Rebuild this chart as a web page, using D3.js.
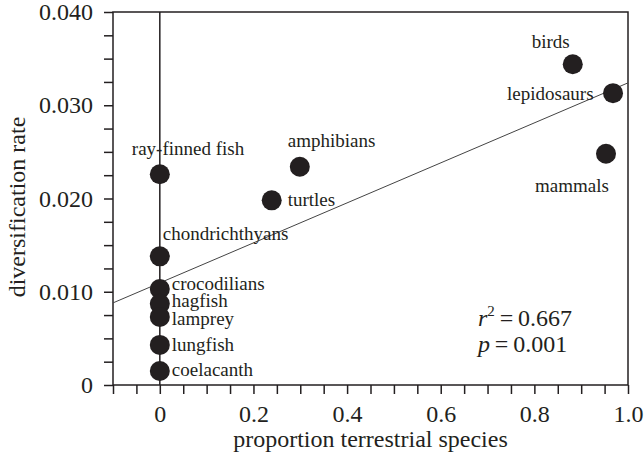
<!DOCTYPE html>
<html><head><meta charset="utf-8">
<script src="https://cdn.jsdelivr.net/npm/d3@7"></script>
<style>body{margin:0;background:#fff}svg{display:block}text{font-family:"Liberation Serif","Times New Roman",serif;fill:#231f20}</style>
</head><body>
<script>
const groups = ["ray-finned fish","chondrichthyans","crocodilians","hagfish","lamprey","lungfish","coelacanth","turtles","amphibians","birds","lepidosaurs","mammals"];
const propTerrestrial = [0,0,0,0,0,0,0,0.239,0.299,0.882,0.968,0.953];
const divRate = [0.0226,0.0138,0.0103,0.0087,0.0073,0.0043,0.0015,0.0198,0.0234,0.0344,0.0313,0.0248];
const xTicks = [0,0.2,0.4,0.6,0.8,1.0];
const xTickLabels = ["0","0.2","0.4","0.6","0.8","1.0"];
const yTicks = [0,0.010,0.020,0.030,0.040];
const yTickLabels = ["0","0.010","0.020","0.030","0.040"];
const fitIntercept = 0.01095, fitSlope = 0.02145;
const stats = ["0.667","0.001"];

const W=644,H=456, L=113,R=628,T=12,B=385;
const FONT='"Liberation Serif","Times New Roman",serif';
const svg=d3.select("body").append("svg").attr("width",W).attr("height",H);
const x=d3.scaleLinear().domain([-0.1,1.0]).range([L,R]);
const y=d3.scaleLinear().domain([0,0.04]).range([B,T]);
const ink="#231f20";

// minor ticks
const xMinor=d3.range(-0.1,1.0001,0.05).map(v=>+v.toFixed(3));
const yMinor=d3.range(0,0.04001,0.0025).map(v=>+v.toFixed(4));
svg.append("g").attr("transform",`translate(0,${B})`)
  .call(d3.axisBottom(x).tickValues(xMinor).tickSize(9).tickFormat(""))
  .call(g=>{g.select(".domain").remove();g.selectAll("line").attr("stroke",ink).attr("stroke-width",1.5);});
svg.append("g").attr("transform",`translate(${L},0)`)
  .call(d3.axisLeft(y).tickValues(yMinor).tickSize(9).tickFormat(""))
  .call(g=>{g.select(".domain").remove();g.selectAll("line").attr("stroke",ink).attr("stroke-width",1.5);});

// tick labels
svg.append("g").attr("transform",`translate(0,${B})`)
  .call(d3.axisBottom(x).tickValues(xTicks).tickSize(0).tickPadding(20).tickFormat((d,i)=>xTickLabels[i]))
  .call(g=>{g.select(".domain").remove();g.attr("font-family",FONT).attr("font-size",24);g.selectAll("text").attr("fill",ink);});
svg.append("g").attr("transform",`translate(${L},0)`)
  .call(d3.axisLeft(y).tickValues(yTicks).tickSize(0).tickPadding(20).tickFormat((d,i)=>yTickLabels[i]))
  .call(g=>{g.select(".domain").remove();g.attr("font-family",FONT).attr("font-size",24);g.selectAll("text").attr("fill",ink);});

// frame
svg.append("rect").attr("x",L).attr("y",T).attr("width",R-L).attr("height",B-T)
  .attr("fill","none").attr("stroke",ink).attr("stroke-width",1.5);
// vertical line at 0
svg.append("line").attr("x1",x(0)).attr("x2",x(0)).attr("y1",T).attr("y2",B).attr("stroke",ink).attr("stroke-width",1.5);

// regression
svg.append("line").attr("x1",x(-0.1)).attr("y1",y(fitIntercept+fitSlope*-0.1))
  .attr("x2",x(1.0)).attr("y2",y(fitIntercept+fitSlope*1.0)).attr("stroke","#444").attr("stroke-width",1);

// points
svg.append("g").selectAll("circle").data(groups).join("circle")
  .attr("cx",(d,i)=>x(propTerrestrial[i])).attr("cy",(d,i)=>y(divRate[i])).attr("r",10).attr("fill",ink);

// labels: offsets relative to point
const lab = {
 "ray-finned fish":[-28,-19,"start"],
 "chondrichthyans":[3,-16,"start"],
 "crocodilians":[12,1,"start"],
 "hagfish":[12,3,"start"],
 "lamprey":[12,8,"start"],
 "lungfish":[12,6,"start"],
 "coelacanth":[12,5,"start"],
 "turtles":[16,6,"start"],
 "amphibians":[-12,-20,"start"],
 "birds":[-41,-16,"start"],
 "lepidosaurs":[-106,7,"start"],
 "mammals":[-71,38,"start"]
};
svg.append("g").attr("font-family",FONT).selectAll("text").data(groups).join("text")
  .attr("x",(d,i)=>x(propTerrestrial[i])+lab[d][0])
  .attr("y",(d,i)=>y(divRate[i])+lab[d][1])
  .attr("text-anchor",d=>lab[d][2]).attr("font-size",19).text(d=>d);

// stats
const st=svg.append("g").attr("font-size",24).attr("font-family",FONT);
const t1=st.append("text").attr("x",478).attr("y",326);
t1.append("tspan").attr("font-style","italic").text("r");
t1.append("tspan").attr("font-size",15).attr("dy",-10).text("2");
t1.append("tspan").attr("dy",10).text("\u2009=\u2009"+stats[0]);
const t2=st.append("text").attr("x",478).attr("y",352);
t2.append("tspan").attr("font-style","italic").text("p");
t2.append("tspan").text("\u2009=\u2009"+stats[1]);

// axis titles
svg.append("text").attr("x",(L+R)/2).attr("y",447).attr("text-anchor","middle").attr("font-family",FONT).attr("font-size",24).text("proportion terrestrial species");
svg.append("text").attr("transform","translate(25,207) rotate(-90)").attr("text-anchor","middle").attr("font-family",FONT).attr("font-size",24).text("diversification rate");
</script>
</body></html>
